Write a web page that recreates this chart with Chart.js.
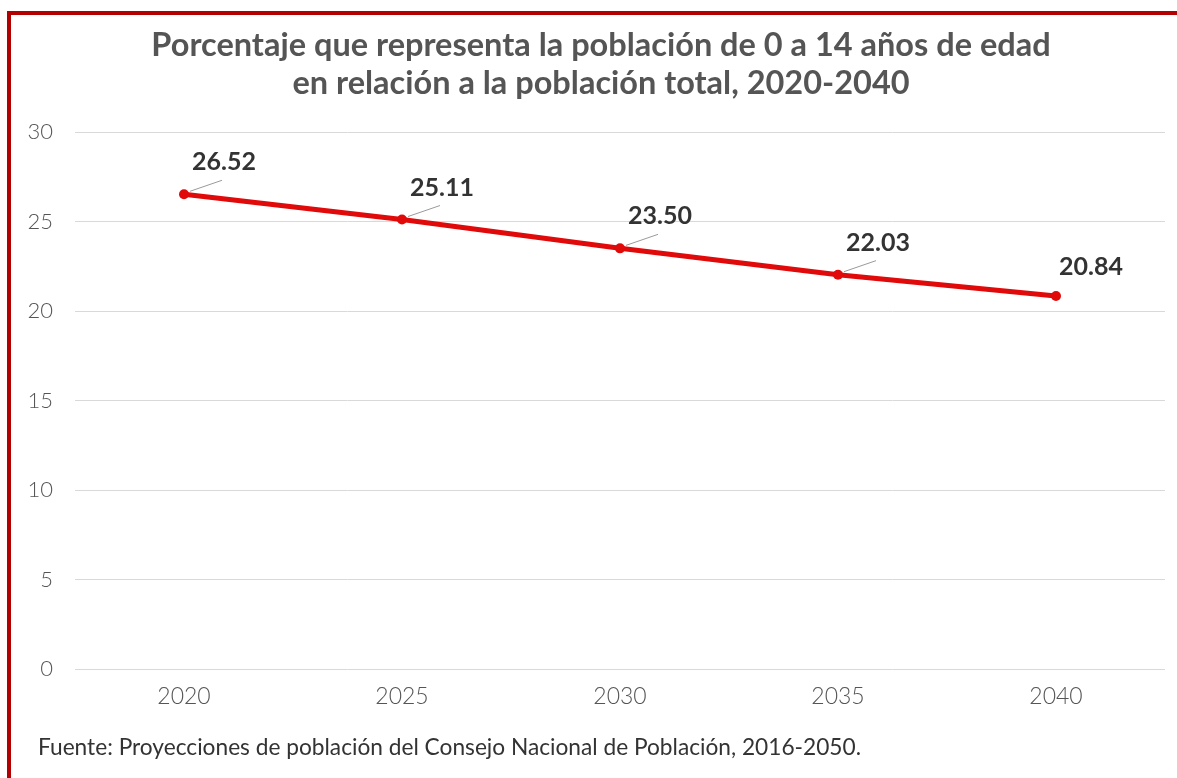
<!DOCTYPE html>
<html><head><meta charset="utf-8">
<script src="https://cdn.jsdelivr.net/npm/chart.js@4.4.1/dist/chart.umd.min.js"></script>
<style>
html,body{margin:0;padding:0;background:#fff;}
#frame{position:absolute;left:7px;top:11px;width:1170px;height:767px;border-top:4px solid #b30000;border-left:4px solid #b30000;box-sizing:border-box;}
#wrap{position:absolute;left:0;top:0;width:1177px;height:778px;}
</style></head>
<body>
<div id="frame"></div>
<div id="wrap"><canvas id="c" width="1177" height="778"></canvas></div>
<script>
const years = ['2020','2025','2030','2035','2040'];
const values = [26.52, 25.11, 23.50, 22.03, 20.84];
const valueLabels = ['26.52','25.11','23.50','22.03','20.84'];
const leaders = [true, true, true, true, false];
const titleLines = ['Porcentaje que representa la población de 0 a 14 años de edad','en relación a la población total, 2020-2040'];
const sourceText = 'Fuente: Proyecciones de población del Consejo Nacional de Población, 2016-2050.';

const decor = {
  id:'decor',
  afterDraw(chart){
    const ctx = chart.ctx;
    ctx.save();
    // title
    ctx.fillStyle = '#555555';
    ctx.font = 'bold 32.5px Lato';
    ctx.textAlign = 'center';
    ctx.textBaseline = 'middle';
    ctx.fillText(titleLines[0], 601, 46);
    ctx.fillText(titleLines[1], 601, 84);
    // source
    ctx.fillStyle = '#333333';
    ctx.font = '22.7px Lato';
    ctx.textAlign = 'left';
    ctx.fillText(sourceText, 38, 748);
    // value labels
    const meta = chart.getDatasetMeta(0);
    meta.data.forEach((pt, i) => {
      const x = pt.x, y = pt.y;
      if (leaders[i]) {
        ctx.strokeStyle = '#9a9a9a';
        ctx.lineWidth = 1;
        ctx.beginPath();
        ctx.moveTo(x + 6, y - 3);
        ctx.lineTo(x + 38, y - 14);
        ctx.stroke();
      }
      ctx.fillStyle = '#333333';
      ctx.font = 'bold 25px Lato';
      ctx.textAlign = 'left';
      ctx.textBaseline = 'middle';
      ctx.fillText(valueLabels[i], x + (leaders[i] ? 8 : 3), y - (leaders[i] ? 32 : 29));
    });
    ctx.restore();
  }
};

new Chart(document.getElementById('c'), {
  type:'line',
  data:{
    labels: years,
    datasets:[{
      data: values,
      borderColor:'#e00a0a',
      backgroundColor:'#e00a0a',
      borderWidth:5,
      pointRadius:5,
      pointBackgroundColor:'#e00a0a',
      pointBorderWidth:0,
      tension:0
    }]
  },
  options:{
    responsive:false,
    animation:false,
    layout:{padding:{top:132, right:12, bottom:69, left:0}},
    plugins:{legend:{display:false}, tooltip:{enabled:false}, title:{display:false}},
    scales:{
      x:{
        offset:true,
        grid:{display:false, drawTicks:false},
        border:{display:false},
        ticks:{color:'#555555', font:{family:'Lato', size:23, weight:'300'}, padding:14},
        afterFit(s){ s.height = 40; }
      },
      y:{
        min:0, max:30,
        grid:{color:'#d9d9d9', lineWidth:1, drawTicks:false},
        border:{display:false},
        ticks:{stepSize:5, color:'#555555', font:{family:'Lato', size:22, weight:'300'}, padding:22},
        afterFit(s){ s.width = 75; }
      }
    }
  },
  plugins:[decor]
});
</script>
</body></html>
